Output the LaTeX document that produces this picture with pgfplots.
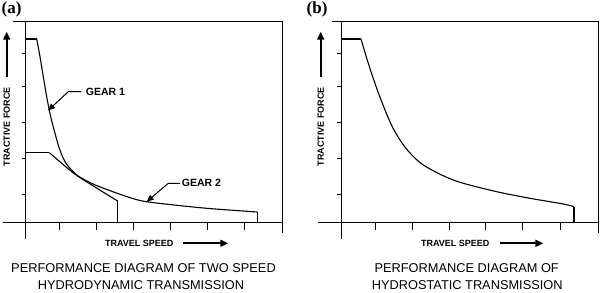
\documentclass[border=0pt]{standalone}
\usepackage{pgfplots}
\pgfplotsset{compat=1.18}
\usepackage{fontspec}
\setmainfont{Liberation Sans}
\newfontfamily\serifbf{Liberation Serif}
\usetikzlibrary{arrows.meta}

\pgfplotsset{panel/.style={
  x=1pt, y=1pt, anchor=origin, clip=false,
  xmin=-23, xmax=257, ymin=-16.3, ymax=201,
  axis lines=middle, axis line style={-, line width=1pt},
  xtick={34,71,108,144.5,181.5,219}, ytick=\empty,
  extra y ticks={27.7,63.7,100.2,136,169.4},
  extra y tick labels={},
  extra y tick style={major tick length=4pt},
  xticklabels={},
  tick align=outside,
  major tick length=7.5pt,
  tick style={black, line width=1pt},
},
curve/.style={black, line width=1.1pt, line join=round}}

\begin{document}
\begin{tikzpicture}[x=1pt,y=1pt]
\useasboundingbox (0,0) rectangle (600,292);
% ---------- panel (a)
\begin{axis}[panel, at={(25.7,69.3)}]
% GEAR 1
\addplot[curve] coordinates {(0,183.7)(11,183.7)};
\addplot[curve, smooth, tension=0.5] coordinates {
(11,183.7)(14.3,166)(17.6,146)(21.6,122.7)(25,106)(29.3,89.4)(33.6,74.4)(39.3,61)(46,52.5)(52,47)(59.3,42.7)(70,37.5)(82.6,32.7)(99.3,26.7)(117.6,21.5)(147.6,17.8)(181,14.4)(214.3,11.9)(231.6,10.7)};
\addplot[curve] coordinates {(231.6,10.7)(231.6,0)};
% GEAR 2
\addplot[curve] coordinates {(0,70)(23.6,70)};
\addplot[curve, smooth, tension=0.4] coordinates {
(23.6,70)(36,59.4)(46,51)(56,44)(66,37.7)(79.3,29.4)(92,21.7)};
\addplot[curve] coordinates {(92,21.7)(92,0)};
\draw[line width=1pt] (axis cs:-13,201) -- (axis cs:257,201) -- (axis cs:257,-10.3);
\end{axis}
% ---------- panel (b)
\begin{axis}[panel, at={(341,69.3)}]
\addplot[curve] coordinates {(0,183.7)(20,183.7)};
\addplot[curve, smooth, tension=0.5] coordinates {
(20,183.7)(27.3,159.4)(35.7,134.4)(44,112.7)(52.3,94)(64,75.5)(77.3,61.5)(89,53.7)(105.7,45.4)(122.3,39.4)(155.7,31)(189,24.4)(222.3,18.7)(233,16)};
\addplot[curve] coordinates {(233,16)(233,0)};
\draw[line width=1pt] (axis cs:-9.3,201) -- (axis cs:257,201) -- (axis cs:257,-10.3);
\end{axis}
% ---------- labels
\node[anchor=west, inner sep=0, font=\serifbf\bfseries\fontsize{17}{17}\selectfont] at (1.5,282.3) {(a)};
\node[anchor=west, inner sep=0, font=\serifbf\bfseries\fontsize{17}{17}\selectfont] at (306.5,282.3) {(b)};

\foreach \xx in {6.7,320.7}{
  \node[rotate=90, inner sep=0, font=\bfseries\fontsize{9}{9}\selectfont] at (\xx,165.3) {TRACTIVE FORCE};
  \draw[line width=1.7pt, -{Triangle[length=8pt,width=7pt]}] (\xx,215.3) -- (\xx,260.3);
}
\node[inner sep=0, font=\bfseries\fontsize{9}{9}\selectfont] at (139.2,48.7) {TRAVEL SPEED};
\draw[line width=1.7pt, -{Triangle[length=8pt,width=7pt]}] (183.3,48.7) -- (228.3,48.7);
\node[inner sep=0, font=\bfseries\fontsize{9}{9}\selectfont] at (455.3,48.7) {TRAVEL SPEED};
\draw[line width=1.7pt, -{Triangle[length=8pt,width=7pt]}] (500,48.7) -- (543.3,48.7);

\node[anchor=west, inner sep=0, font=\bfseries\fontsize{10.5}{11}\selectfont] at (85.7,200.3) {GEAR 1};
\draw[line width=1pt, -{Triangle[length=7pt,width=6pt]}] (81,200.3) -- (68.3,200.3) -- (48,181.5);
\node[anchor=west, inner sep=0, font=\bfseries\fontsize{10.5}{11}\selectfont] at (181.7,108.7) {GEAR 2};
\draw[line width=1pt, -{Triangle[length=7pt,width=6pt]}] (180,108.7) -- (168.3,108.7) -- (146.7,90.3);

\node[inner sep=0, font=\fontsize{12.8}{14}\selectfont] at (143.5,23.7) {PERFORMANCE DIAGRAM OF TWO SPEED};
\node[inner sep=0, font=\fontsize{12.8}{14}\selectfont] at (141,7) {HYDRODYNAMIC TRANSMISSION};
\node[inner sep=0, font=\fontsize{12.8}{14}\selectfont] at (466.7,23.7) {PERFORMANCE DIAGRAM OF};
\node[inner sep=0, font=\fontsize{12.8}{14}\selectfont] at (467.2,7) {HYDROSTATIC TRANSMISSION};
\end{tikzpicture}
\end{document}
